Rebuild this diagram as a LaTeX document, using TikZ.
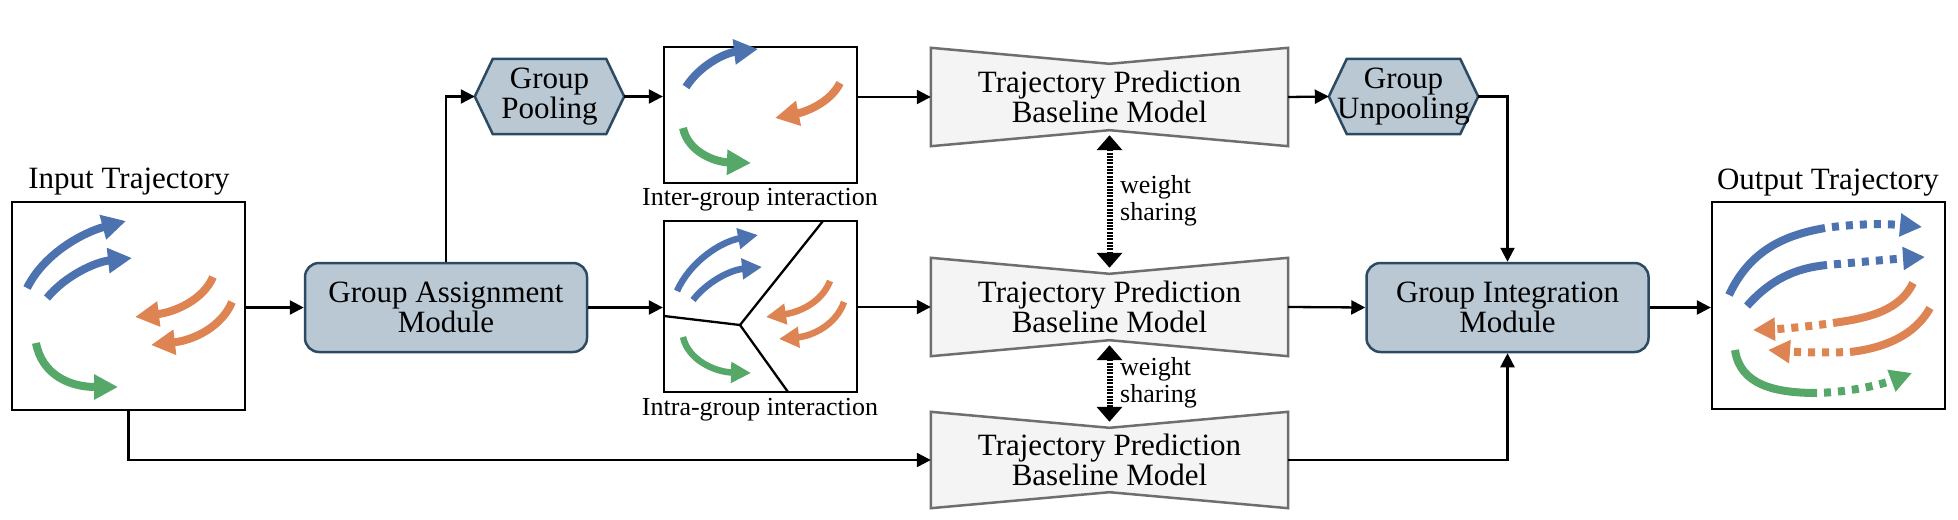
\documentclass[tikz,border=0pt]{standalone}
\usepackage{fontspec}
\setmainfont{Liberation Serif}
\usetikzlibrary{arrows.meta,calc}
\pgfdeclarelayer{background}
\pgfsetlayers{background,main}
\definecolor{tblue}{HTML}{4C72B0}
\definecolor{torange}{HTML}{DD8452}
\definecolor{tgreen}{HTML}{55A868}
\definecolor{modfill}{HTML}{B9C8D3}
\definecolor{modborder}{HTML}{2B4A63}
\definecolor{trapfill}{HTML}{F4F4F4}
\definecolor{trapborder}{HTML}{6E6E6E}
\newcommand{\mainfs}{\fontsize{31}{30.5}\selectfont}
\newcommand{\smallfs}{\fontsize{26}{27}\selectfont}
\newcommand{\mktrap}[1]{\filldraw[trapshape] (#1.north west) -- ([yshift=-16pt]#1.north) -- (#1.north east) -- (#1.south east) -- ([yshift=16pt]#1.south) -- (#1.south west) -- cycle;}
\newcommand{\mkhex}[1]{\filldraw[hexshape] (#1.west) -- ([xshift=18pt]#1.north west) -- ([xshift=-18pt]#1.north east) -- (#1.east) -- ([xshift=-18pt]#1.south east) -- ([xshift=18pt]#1.south west) -- cycle;}
\begin{document}
\begin{tikzpicture}[x=1pt,y=-1pt,
  conn/.style={line width=2.3pt,-{Triangle[length=14pt,width=14pt]}},
  plainline/.style={line width=2.3pt},
  framebox/.style={draw,line width=2.3pt,inner sep=0pt},
  module/.style={draw=modborder,fill=modfill,line width=2.5pt,rounded corners=14pt,minimum width=282pt,minimum height=89pt,align=center,font=\mainfs,inner sep=0pt},
  hexnode/.style={minimum width=149pt,minimum height=75pt,inner sep=0pt,align=center,font=\mainfs},
  hexshape/.style={draw=modborder,fill=modfill,line width=2.5pt,line join=miter},
  trapnode/.style={minimum width=357pt,minimum height=98pt,inner sep=0pt,align=center,font=\mainfs},
  trapshape/.style={draw=trapborder,fill=trapfill,line width=2.5pt},
  trajA/.style={line width=8pt,-{Triangle[length=24pt,width=24pt]}},
  trajB/.style={line width=6.5pt,-{Triangle[length=20pt,width=20pt]}},
  trajC/.style={line width=8pt},
  trajD/.style={line width=8pt,dash pattern=on 7pt off 7pt,dash phase=7pt,-{Triangle[length=22pt,width=22pt]}},
  wshare/.style={line width=6pt,dash pattern=on 2pt off 1.3pt,{Triangle[length=15pt,width=25pt]}-{Triangle[length=15pt,width=25pt]}},
  lbl/.style={font=\mainfs,inner sep=0pt},
  slbl/.style={font=\smallfs,inner sep=0pt,align=left}
]
\useasboundingbox (0,0) rectangle (1958,519);

% frames
\node[framebox,minimum width=233pt,minimum height=208pt] (in) at (128.5,306) {};
\node[framebox,minimum width=193pt,minimum height=136pt] (inter) at (760.5,115) {};
\node[framebox,minimum width=193pt,minimum height=171pt] (intra) at (760.5,306.5) {};
\node[framebox,minimum width=233pt,minimum height=207pt] (out) at (1828.5,305.5) {};

% labels
\node[lbl,anchor=base] (inlbl) at (129,188) {Input Trajectory};
\node[lbl,anchor=base] (outlbl) at (1828,189) {Output Trajectory};
\node[slbl,anchor=base] (interlbl) at (760,205) {Inter-group interaction};
\node[slbl,anchor=base] (intralbl) at (760,415) {Intra-group interaction};

% modules
\node[module] (gam) at (446,307.5) {Group Assignment\\Module};
\node[module] (gim) at (1507.5,307.5) {Group Integration\\Module};

% hexagons
\node[hexnode] (pool) at (549.5,96.5) {Group\\Pooling};
\node[hexnode] (unpool) at (1403.5,96.5) {Group\\Unpooling};

% trapezoids
\node[trapnode] (t1) at (1109.5,97) {Trajectory Prediction\\Baseline Model};
\node[trapnode] (t2) at (1109.5,307) {Trajectory Prediction\\Baseline Model};
\node[trapnode,minimum height=96pt] (t3) at (1109.5,460) {Trajectory Prediction\\Baseline Model};

\begin{pgfonlayer}{background}
\mkhex{pool}
\mkhex{unpool}
\mktrap{t1}
\mktrap{t2}
\mktrap{t3}
\end{pgfonlayer}

% weight sharing
\draw[wshare] ([yshift=11pt]t1.south) -- ([yshift=-10pt]t2.north);
\draw[wshare] ([yshift=11pt]t2.south) -- ([yshift=-10pt]t3.north);
\node[slbl,anchor=west] (ws1) at (1120,201) {weight\\sharing};
\node[slbl,anchor=west] (ws2) at (1120,383) {weight\\sharing};

% connectors
\draw[conn] (in.east |- gam.west) -- (gam.west);
\draw[conn] (gam.north) |- (pool.west);
\draw[conn] (pool.east) -- (pool.east -| inter.west);
\draw[conn] (inter.east |- t1.west) -- (t1.west);
\draw[conn] (t1.east) -- (unpool.west);
\draw[conn] (unpool.east) -| (gim.north);
\draw[conn] (gam.east) -- (gam.east -| intra.west);
\draw[conn] (intra.east |- t2.west) -- (t2.west);
\draw[conn] (t2.east) -- (gim.west);
\draw[conn] (in.south) |- (t3.west);
\draw[conn] (t3.east) -| (gim.south);
\draw[conn] (gim.east) -- (gim.east -| out.west);

% intra-group partition lines
\draw[plainline] (664,316) -- (740,325) -- (823,221);
\draw[plainline] (740,325) -- (788,392);

% input trajectories
\draw[trajA,tblue] (27,288) .. controls (45,252) and (85,232) .. (126,221);
\draw[trajA,tblue] (47,298) .. controls (65,276) and (95,262) .. (132,258);
\draw[trajA,torange] (213,277) .. controls (203,300) and (175,312) .. (135,317);
\draw[trajA,torange] (232,302) .. controls (222,326) and (195,340) .. (151,345);
\draw[trajA,tgreen] (36,343) .. controls (42,375) and (70,387) .. (118,387);

% inter-group trajectories
\draw[trajA,tblue] (686,87) .. controls (700,65) and (725,53) .. (758,49);
\draw[trajA,torange] (840,83) .. controls (830,103) and (805,112) .. (775,118);
\draw[trajA,tgreen] (683,128) .. controls (688,152) and (715,162) .. (751,163);

% intra-group trajectories
\draw[trajB,tblue] (677,291) .. controls (690,262) and (720,242) .. (758,235);
\draw[trajB,tblue] (693,300) .. controls (707,282) and (730,270) .. (762,267);
\draw[trajB,torange] (830,281) .. controls (822,302) and (800,312) .. (766,317);
\draw[trajB,torange] (844,302) .. controls (836,325) and (812,336) .. (779,339);
\draw[trajB,tgreen] (683,337) .. controls (688,360) and (715,372) .. (751,373);

% output trajectories
\draw[trajC,tblue] (1729,295) .. controls (1750,250) and (1785,235) .. (1825,228);
\draw[trajD,tblue] (1825,228) .. controls (1860,223) and (1890,224) .. (1922,227);
\draw[trajC,tblue] (1747,306) .. controls (1770,280) and (1795,268) .. (1827,265);
\draw[trajD,tblue] (1827,265) .. controls (1860,262) and (1895,259) .. (1925,257);
\draw[trajC,torange] (1913,283) .. controls (1900,310) and (1870,318) .. (1833,323);
\draw[trajD,torange] (1833,323) .. controls (1805,327) and (1780,329) .. (1753,330);
\draw[trajC,torange] (1930,308) .. controls (1915,335) and (1885,348) .. (1850,352);
\draw[trajD,torange] (1850,352) .. controls (1820,353) and (1795,352) .. (1768,350);
\draw[trajC,tgreen] (1735,350) .. controls (1740,385) and (1775,393) .. (1817,393);
\draw[trajD,tgreen] (1817,393) .. controls (1850,392) and (1880,385) .. (1912,373);
\end{tikzpicture}
\end{document}
